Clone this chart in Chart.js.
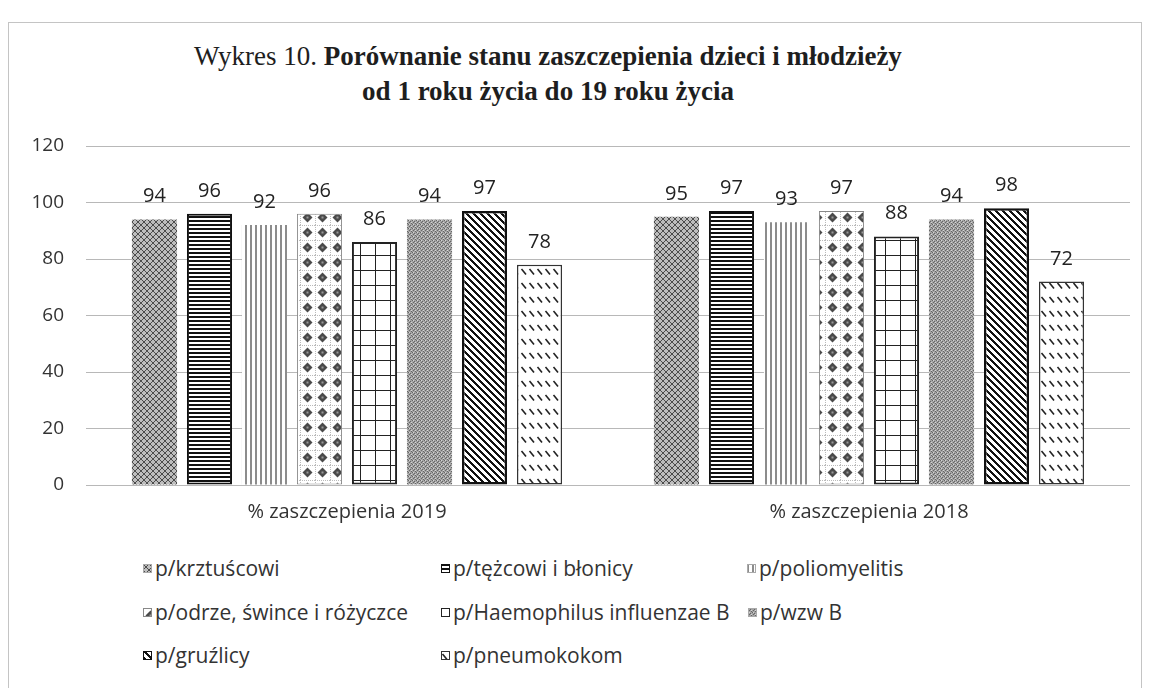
<!DOCTYPE html>
<html>
<head>
<meta charset="utf-8">
<script src="https://cdn.jsdelivr.net/npm/chart.js@4.4.1/dist/chart.umd.min.js"></script>
<style>
    body { margin: 0; background: #fff; width: 1149px; height: 688px; overflow: hidden; position: relative; font-family: 'Open Sans', Lato, sans-serif; }
    #frame { position: absolute; left: 8px; top: 22px; width: 1132px; height: 700px; border: 1px solid #c4c4c4; }
    #title { position: absolute; left: 0; width: 1096px; top: 39px; text-align: center; font-family: 'Liberation Serif', 'DejaVu Serif', serif; font-size: 27px; line-height: 35px; color: #1e1e1e; font-weight: bold; }
    #title .n { font-weight: normal; }
    #wrap { position: absolute; left: 0; top: 0; width: 1149px; height: 525px; }
    .li { position: absolute; font-size: 21px; line-height: 26px; color: #333; white-space: nowrap; }
    .li canvas { position: absolute; left: 0; top: 9px; }
    .li span { position: absolute; left: 12px; top: 0; }
</style>
</head>
<body>
<div id="frame"></div>
<div id="title"><span class="n">Wykres 10.</span> Porównanie stanu zaszczepienia dzieci i młodzieży<br>od 1 roku życia do 19 roku życia</div>
<div id="wrap"><canvas id="chart"></canvas></div>
<div id="legend"></div>
<script>
// categories and values
const categories = ['% zaszczepienia 2019', '% zaszczepienia 2018'];
const seriesNames = [
    'p/krztuścowi', 'p/tężcowi i błonicy', 'p/poliomyelitis', 'p/odrze, śwince i różyczce',
    'p/Haemophilus influenzae B', 'p/wzw B', 'p/gruźlicy', 'p/pneumokokom'
];
const krztusiec = [94, 95];
const tezec = [96, 97];
const polio = [92, 93];
const odra = [96, 97];
const haemophilus = [86, 88];
const wzwB = [94, 94];
const gruzlica = [97, 98];
const pneumokoki = [78, 72];
const yTicks = [0, 20, 40, 60, 80, 100, 120];

// fill patterns (scanned b/w print look)
const pctx = document.createElement('canvas').getContext('2d');
function tile(w, h, draw) {
    const c = document.createElement('canvas');
    c.width = w; c.height = h;
    const g = c.getContext('2d');
    g.fillStyle = '#fff';
    g.fillRect(0, 0, w, h);
    draw(g, w, h);
    return pctx.createPattern(c, 'repeat');
}

const patterns = [
    tile(6, 6, (g) => {
        g.fillStyle = '#bdbdbd'; g.fillRect(0, 0, 6, 6);
        g.fillStyle = '#4c4c4c';
        for (let i = 0; i < 6; i++) { g.fillRect(i, i, 1, 1); g.fillRect(5 - i, i, 1, 1); }
    }),
    tile(1, 4, (g) => { g.fillStyle = '#111'; g.fillRect(0, 0, 1, 2); }),
    tile(5, 1, (g) => { g.fillStyle = '#8c8c8c'; g.fillRect(0, 0, 2, 1); }),
    tile(15, 15, (g) => {
        g.fillStyle = '#bbb';
        for (let x = 0; x < 15; x += 2) g.fillRect(x, 0, 1, 1);
        for (let y = 0; y < 15; y += 2) g.fillRect(0, y, 1, 1);
        g.fillStyle = '#4a4a4a';
        g.beginPath();
        g.moveTo(7.5, 2.5); g.lineTo(12.5, 7.5); g.lineTo(7.5, 12.5); g.lineTo(2.5, 7.5);
        g.closePath(); g.fill();
        g.fillStyle = '#999'; g.fillRect(6.5, 6.5, 2, 2);
    }),
    tile(15, 15, (g) => {
        g.fillStyle = '#222';
        g.fillRect(0, 0, 15, 1);
        g.fillRect(0, 0, 1, 15);
    }),
    tile(4, 4, (g) => {
        g.fillStyle = '#a4a4a4'; g.fillRect(0, 0, 4, 4);
        g.fillStyle = '#666';
        g.fillRect(0, 0, 1, 1); g.fillRect(2, 1, 1, 1); g.fillRect(1, 2, 1, 1); g.fillRect(3, 3, 1, 1);
        g.fillStyle = '#d4d4d4';
        g.fillRect(1, 0, 1, 1); g.fillRect(3, 2, 1, 1);
    }),
    tile(7, 7, (g) => {
        g.fillStyle = '#111';
        for (let y = 0; y < 7; y++) for (let x = 0; x < 7; x++) {
            if ((x - y + 7) % 7 < 3) g.fillRect(x, y, 1, 1);
        }
    }),
    tile(8, 14, (g) => {
        g.strokeStyle = '#222'; g.lineWidth = 1.6;
        g.beginPath(); g.moveTo(1.5, 3); g.lineTo(6, 8.5); g.stroke();
    })
];
const borders = [
    { c: '#9a9a9a', w: 0 }, { c: '#111', w: 2 }, { c: '#999', w: 0 }, { c: '#888', w: 1 },
    { c: '#222', w: 2 }, { c: '#888', w: 0 }, { c: '#111', w: 2.5 }, { c: '#333', w: 1.5 }
];
const seriesValues = [krztusiec, tezec, polio, odra, haemophilus, wzwB, gruzlica, pneumokoki];

const valueLabels = {
    id: 'valueLabels',
    afterDatasetsDraw(chart) {
        const ctx = chart.ctx;
        ctx.save();
        ctx.font = '20px "Open Sans", Lato, sans-serif';
        ctx.fillStyle = '#222';
        ctx.textAlign = 'center';
        ctx.textBaseline = 'alphabetic';
        chart.data.datasets.forEach((ds, i) => {
            chart.getDatasetMeta(i).data.forEach((bar, j) => {
                ctx.fillText(ds.data[j], bar.x, bar.y - 17);
            });
        });
        ctx.restore();
    }
};

const chart = new Chart(document.getElementById('chart'), {
    type: 'bar',
    data: {
        labels: categories,
        datasets: seriesNames.map((name, i) => ({
            label: name,
            data: seriesValues[i],
            backgroundColor: patterns[i],
            borderColor: borders[i].c,
            borderWidth: borders[i].w,
            borderSkipped: false
        }))
    },
    options: {
        responsive: true,
        maintainAspectRatio: false,
        animation: false,
        layout: { padding: { top: 146, left: 0, right: 19, bottom: 0 } },
        datasets: { bar: { categoryPercentage: 0.843, barPercentage: 0.82 } },
        scales: {
            x: {
                grid: { display: false, drawTicks: false },
                border: { display: false },
                ticks: { padding: 15, color: '#333', font: { family: '"Open Sans", Lato, sans-serif', size: 20 } },
                afterFit: (s) => { s.height = 40; }
            },
            y: {
                min: 0,
                max: 120,
                afterBuildTicks: (s) => { s.ticks = yTicks.map(v => ({ value: v })); },
                grid: { color: '#b8b8b8', lineWidth: 1, drawTicks: false },
                border: { display: false },
                ticks: { padding: 22, color: '#333', font: { family: '"Open Sans", Lato, sans-serif', size: 19 } },
                afterFit: (s) => { s.width = 86; }
            }
        },
        plugins: {
            legend: { display: false },
            tooltip: { enabled: false }
        }
    },
    plugins: [valueLabels]
});

// legend laid out in three columns like the original
const legendPos = [
    [143, 555], [441, 555], [747, 555],
    [143, 599], [441, 599], [748, 599],
    [143, 642], [441, 642]
];
const legendEl = document.getElementById('legend');
seriesNames.forEach((name, i) => {
    const item = document.createElement('div');
    item.className = 'li';
    item.style.left = legendPos[i][0] + 'px';
    item.style.top = legendPos[i][1] + 'px';
    const sw = document.createElement('canvas');
    sw.width = 9; sw.height = 9;
    const g = sw.getContext('2d');
    g.fillStyle = patterns[i];
    g.fillRect(0, 0, 9, 9);
    g.strokeStyle = borders[i].w ? borders[i].c : '#aaa';
    g.lineWidth = 1;
    g.strokeRect(0.5, 0.5, 8, 8);
    const txt = document.createElement('span');
    txt.textContent = name;
    item.appendChild(sw);
    item.appendChild(txt);
    legendEl.appendChild(item);
});
</script>
</body>
</html>
